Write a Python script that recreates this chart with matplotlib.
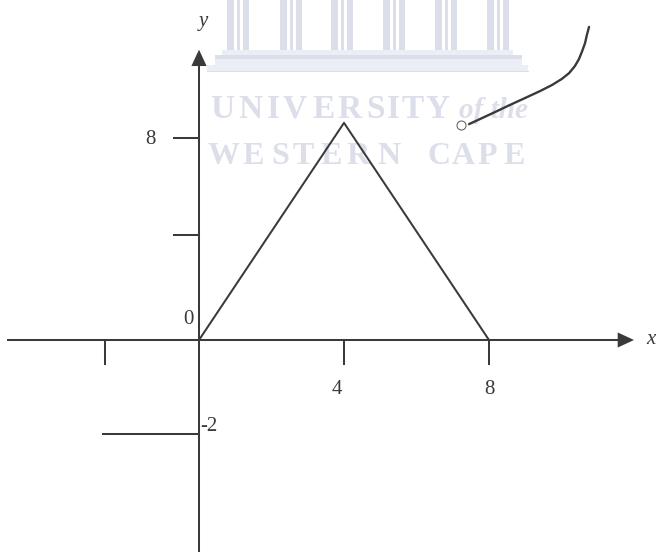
from matplotlib import pyplot as plt

# triangle
tri_x = [0, 4, 8]
tri_y = [0, 8.6, 0]

# curve at the top right
curve_x = [7.45, 7.75, 8.17, 8.58, 8.99, 9.41, 9.74, 10.01, 10.21, 10.37, 10.48, 10.57, 10.65, 10.70, 10.76]
curve_y = [8.55, 8.75, 9.03, 9.31, 9.58, 9.86, 10.10, 10.34, 10.57, 10.85, 11.12, 11.44, 11.76, 12.08, 12.40]
hole_x = 7.23
hole_y = 8.51

# left branch
branch_x = [-2.65, 0]
branch_y = [-3.72, -3.72]

xticks_at = [-2.6, 4, 8]
yticks_at = [4.16, 8]

# watermark letters and where they sit (pixels)
word1 = list('UNIVERSITY')
word1_x = [222, 250, 273, 295, 324, 350, 375, 393, 413, 437]
word2 = list('WESTERNCAPE')
word2_x = [224, 253, 280, 303, 331, 358, 389, 439, 463, 487, 514]
column_x = [227, 280, 331, 383, 435, 487]

dark = '#3a3a3c'
pale = '#dcdee9'
paler = '#eceef5'

plt.rcParams['font.family'] = ['Liberation Serif', 'DejaVu Serif']

fig = plt.figure(figsize=(6.56, 5.52), dpi=100)

# watermark in pixel coordinates, behind the graph
bg = fig.add_axes([0, 0, 1, 1])
bg.set_xlim(0, 656)
bg.set_ylim(552, 0)
bg.axis('off')

for x0 in column_x:
    bg.fill_between([x0, x0 + 7], 0, 50, color=pale, lw=0)
    bg.fill_between([x0 + 10, x0 + 13], 0, 50, color=pale, lw=0)
    bg.fill_between([x0 + 16, x0 + 22], 0, 50, color=pale, lw=0)
bg.fill_between([222, 513], 50, 55, color=paler, lw=0)
bg.fill_between([215, 522], 55, 59, color=pale, lw=0)
bg.fill_between([215, 522], 59, 65, color=paler, lw=0)
bg.fill_between([207, 528], 65, 71, color=paler, lw=0)
bg.plot([207, 528], [71, 71], color=pale, lw=0.8)

for c, x in zip(word1, word1_x):
    bg.text(x, 109, c, fontsize=24, fontweight='bold', color=pale, va='center', ha='center')
for c, x in zip(word2, word2_x):
    bg.text(x, 157, c, fontsize=23, fontweight='bold', color=pale, va='center', ha='center')
bg.text(528, 110, 'of the', fontsize=21, fontstyle='italic', fontweight='bold', color=pale, va='center', ha='right')

# graph, origin at pixel (199, 340)
ax = fig.add_axes([0, 0, 1, 1])
ax.patch.set_alpha(0)
ax.set_xlim(-199 / 36.25, 457 / 36.25)
ax.set_ylim(-212 / 25.25, 340 / 25.25)
ax.axis('off')

lw = 1.45
ax.plot([-5.27, 11.75], [0, 0], color=dark, lw=lw)
ax.plot([0, 0], [-8.4, 10.9], color=dark, lw=lw)
ax.fill([11.55, 11.55, 12.0], [0.3, -0.3, 0], color=dark, lw=0)
ax.fill([-0.21, 0.21, 0], [10.85, 10.85, 11.5], color=dark, lw=0)

for t in xticks_at:
    ax.plot([t, t], [0, -0.95], color=dark, lw=lw)
for t in yticks_at:
    ax.plot([-0.69, 0], [t, t], color=dark, lw=lw)

ax.plot(tri_x, tri_y, color=dark, lw=lw)
ax.plot(branch_x, branch_y, color=dark, lw=lw)
ax.plot(curve_x, curve_y, color=dark, lw=1.7, solid_capstyle='round')
ax.plot(hole_x, hole_y, 'o', mfc='white', mec='#555555', mew=0.7, ms=6.5)

fs = 15
ax.text(-1.35, 7.95, '8', fontsize=fs, color=dark, ha='center', va='center')
ax.text(-0.3, 0.8, '0', fontsize=fs, color=dark, ha='center', va='center')
ax.text(3.8, -1.95, '4', fontsize=fs, color=dark, ha='center', va='center')
ax.text(8, -1.95, '8', fontsize=fs, color=dark, ha='center', va='center')
ax.text(0.03, -3.42, '-2', fontsize=fs, color=dark, ha='left', va='center')
ax.text(0.13, 12.6, 'y', fontsize=fs, fontstyle='italic', color=dark, ha='center', va='center')
ax.text(12.6, 0, 'x', fontsize=fs, fontstyle='italic', color=dark, ha='right', va='center')

fig.savefig('out.png', dpi=100)
